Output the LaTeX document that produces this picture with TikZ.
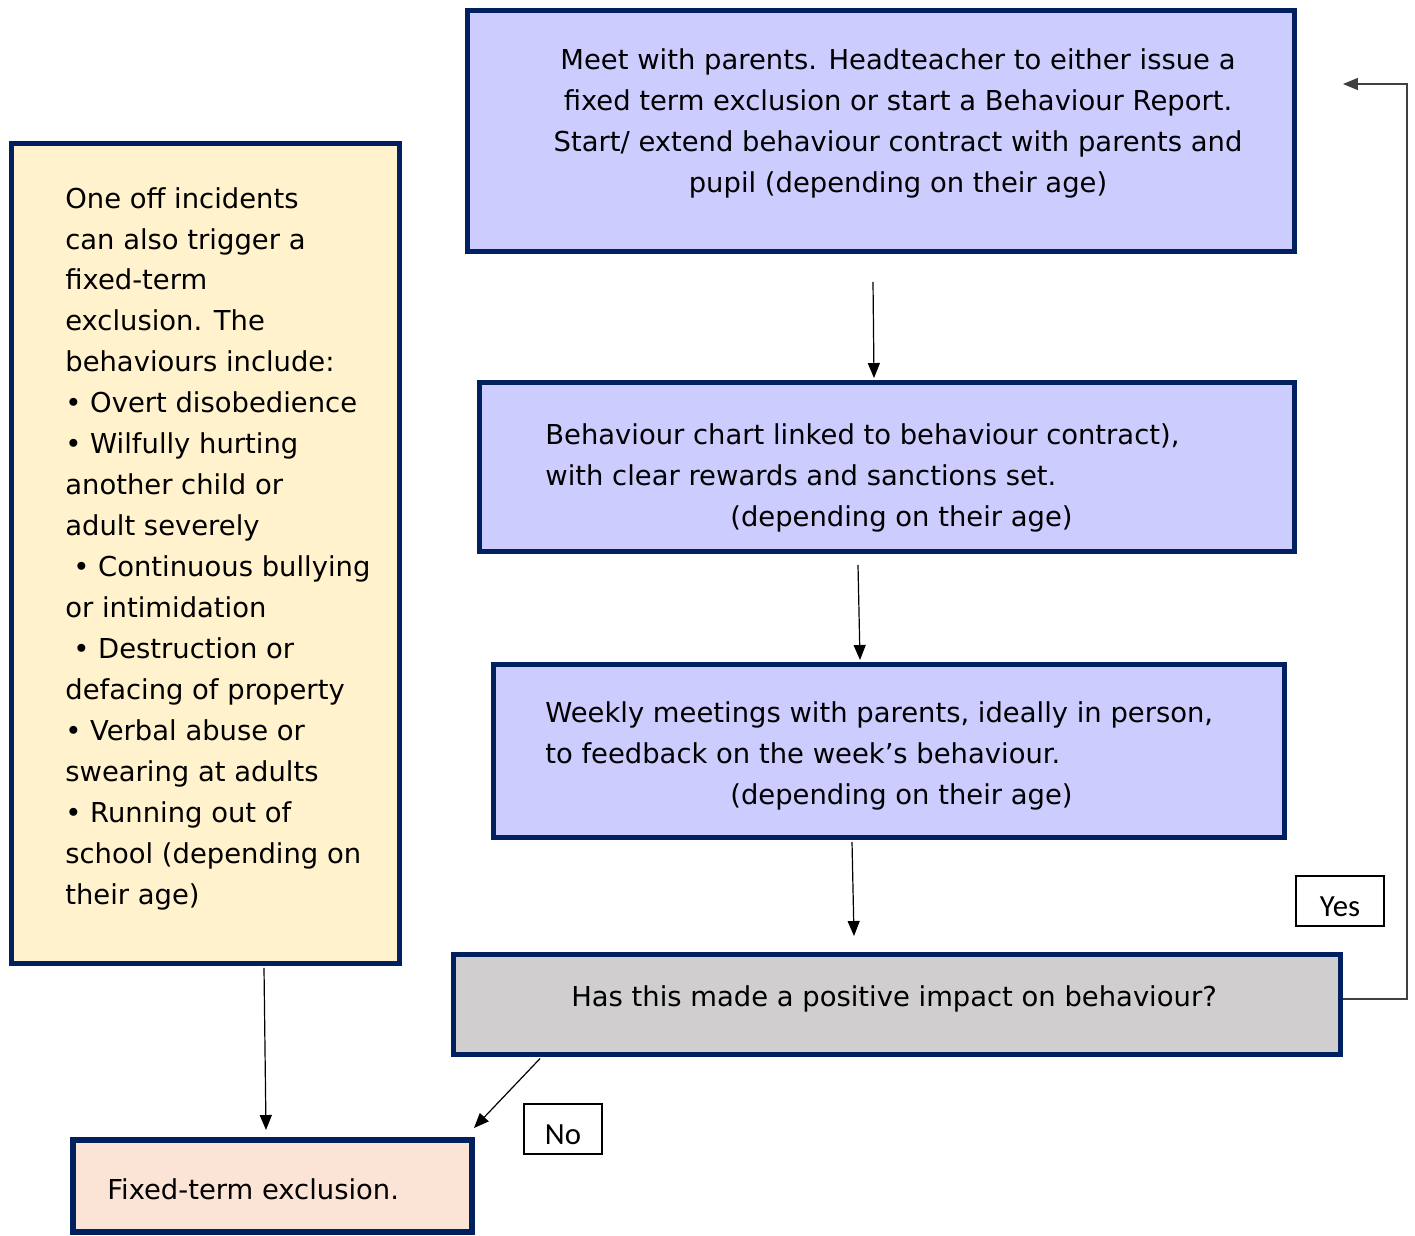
\documentclass[tikz,border=0pt]{standalone}
\usepackage{fontspec}
\setmainfont{DejaVu Sans}
\newfontfamily\calib{Carlito}
\usetikzlibrary{arrows.meta,calc}
\definecolor{navy}{HTML}{002060}
\definecolor{lilac}{HTML}{CCCCFF}
\definecolor{cream}{HTML}{FFF2CC}
\definecolor{greybox}{HTML}{D0CECE}
\definecolor{peach}{HTML}{FBE4D5}
\definecolor{fbline}{HTML}{404040}
\tikzset{
  box/.style={draw=navy, line width=0.11cm, rectangle, outer sep=0pt, inner sep=0pt},
  txt/.style={inner sep=0pt, font=\fontsize{15.6}{23.3}\selectfont},
  tag/.style={draw=black, line width=0.03cm, rectangle, outer sep=0pt, inner sep=0pt, font=\calib\fontsize{17.5}{20}\selectfont},
  arr/.style={line width=0.024cm, -{Triangle[length=0.3cm,width=0.24cm]}}
}
\begin{document}
\begin{tikzpicture}[x=0.02cm,y=-0.02cm]
\useasboundingbox (0,0) rectangle (1415,1235);
% boxes
\node[box, fill=lilac, minimum width=16.54cm, minimum height=4.82cm] (top) at (881,131) {};
\node[box, fill=lilac, minimum width=16.3cm, minimum height=3.38cm] (chart) at (887,467) {};
\node[box, fill=lilac, minimum width=15.82cm, minimum height=3.46cm] (weekly) at (889,751) {};
\node[box, fill=greybox, minimum width=17.74cm, minimum height=2cm] (dec) at (897,1004.5) {};
\node[box, fill=cream, minimum width=7.76cm, minimum height=16.4cm] (left) at (205.5,553.5) {};
\node[box, fill=peach, minimum width=7.98cm, minimum height=1.84cm] (excl) at (272.5,1186) {};
% texts
\node[txt, align=center] (ttop) at (898,123.5) {Meet with parents. Headteacher to either issue a\\fixed term exclusion or start a Behaviour Report.\\Start/ extend behaviour contract with parents and\\pupil (depending on their age)};
\node[txt, align=left, anchor=west] (tchart) at (545,478) {Behaviour chart linked to behaviour contract),\\with clear rewards and sanctions set.\\\hspace*{3.7cm}(depending on their age)};
\node[txt, align=left, anchor=west] (tweekly) at (545,756) {Weekly meetings with parents, ideally in person,\\to feedback on the week’s behaviour.\\\hspace*{3.7cm}(depending on their age)};
\node[txt, align=center] (tdec) at (894,999) {Has this made a positive impact on behaviour?};
\node[txt, align=left, anchor=west] (tleft) at (65,548.5) {One off incidents\\can also trigger a\\fixed-term\\exclusion. The\\behaviours include:\\• Overt disobedience\\• Wilfully hurting\\another child or\\adult severely\\\hspace*{0.16cm}• Continuous bullying\\or intimidation\\\hspace*{0.16cm}• Destruction or\\defacing of property\\• Verbal abuse or\\swearing at adults\\• Running out of\\school (depending on\\their age)};
\node[txt, anchor=west] (texcl) at (107,1189) {Fixed-term exclusion.};
\node[tag, minimum width=1.76cm, minimum height=1cm] (yes) at (1340,901) {\raisebox{-0.31cm}[0pt][0pt]{Yes}};
\node[tag, minimum width=1.56cm, minimum height=1cm] (no) at (563,1129) {\raisebox{-0.31cm}[0pt][0pt]{No}};
% connectors
\draw[arr] ($(top.south)+(-8,30.5)$) -- ($(chart.north)+(-13,-4.5)$);
\draw[arr] ($(chart.south)+(-29,13.5)$) -- ($(weekly.north)+(-29,-4.5)$);
\draw[arr] ($(weekly.south)+(-37,4.5)$) -- ($(dec.north)+(-43,-18.5)$);
\draw[arr] ($(left.south)+(58.5,4.5)$) -- ($(excl.north)+(-6.5,-10)$);
\draw[arr] ($(dec.south west)+(86.5,4)$) -- ($(excl.north east)+(2,-12)$);
\draw[line width=0.024cm, draw=fbline, -{Triangle[length=0.3cm,width=0.24cm]}, color=fbline]
  ($(dec.east)+(2.5,-5.5)$) -| ($(top.east)+(112.5,-47)$) -- ($(top.east)+(48.5,-47)$);
\end{tikzpicture}
\end{document}
